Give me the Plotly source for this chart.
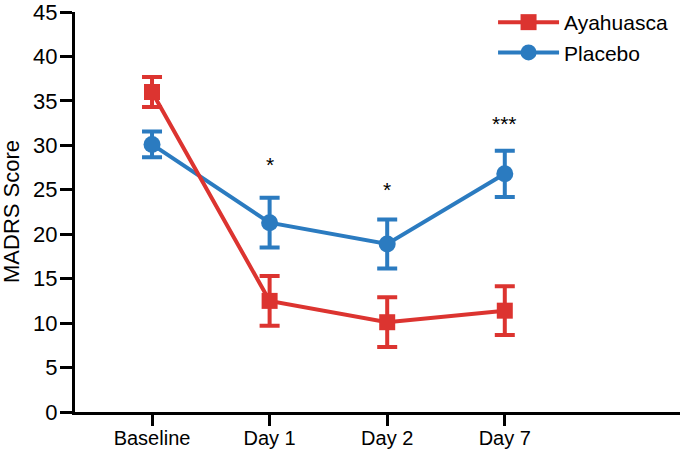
import plotly.graph_objects as go

categories = ["Baseline", "Day 1", "Day 2", "Day 7"]
aya_mean = [36.0, 12.5, 10.1, 11.4]
aya_err = [1.7, 2.8, 2.8, 2.75]
pla_mean = [30.1, 21.3, 18.9, 26.8]
pla_err = [1.45, 2.8, 2.75, 2.6]
sig_labels = ["*", "*", "***"]
sig_cats = ["Day 1", "Day 2", "Day 7"]
sig_y = [27.8, 25.0, 32.5]

RED = "#DC3430"
BLUE = "#2B7BC0"
xpos = list(range(len(categories)))
idx = {c: i for i, c in enumerate(categories)}

fig = go.Figure()
fig.add_trace(go.Scatter(
    x=xpos, y=pla_mean, name="Placebo", mode="lines+markers",
    line=dict(color=BLUE, width=4),
    marker=dict(symbol="circle", size=17, color=BLUE),
    error_y=dict(type="data", array=pla_err, visible=True, color=BLUE, thickness=4, width=10),
    legendrank=2,
))
fig.add_trace(go.Scatter(
    x=xpos, y=aya_mean, name="Ayahuasca", mode="lines+markers",
    line=dict(color=RED, width=4),
    marker=dict(symbol="square", size=16, color=RED),
    error_y=dict(type="data", array=aya_err, visible=True, color=RED, thickness=4, width=10),
    legendrank=1,
))

for lab, c, yv in zip(sig_labels, sig_cats, sig_y):
    fig.add_annotation(x=idx[c], y=yv, text=lab, showarrow=False,
                       font=dict(size=21, color="black"), yanchor="middle")

fig.add_annotation(xref="paper", yref="paper", x=0, y=0.5, xanchor="center",
                   yanchor="middle", xshift=-64, text="MADRS Score", textangle=-90,
                   showarrow=False, font=dict(size=22, color="black"))

fig.update_layout(
    width=680, height=451,
    margin=dict(l=75, r=0, t=10, b=39),
    plot_bgcolor="white", paper_bgcolor="white",
    font=dict(family="Liberation Sans, Arial", size=20, color="black"),
    showlegend=True,
    legend=dict(x=0.691, y=1.025, xanchor="left", yanchor="top",
                bgcolor="rgba(0,0,0,0)", font=dict(size=21),
                itemwidth=61, tracegroupgap=0),
)
fig.update_xaxes(
    range=[-0.655, 4.49], tickmode="array", tickvals=xpos, ticktext=categories,
    showline=True, linecolor="black", linewidth=3, ticks="outside",
    ticklen=11, tickwidth=3, tickcolor="black", showgrid=False, zeroline=False,
    tickfont=dict(size=20), ticklabelstandoff=-5,
)
fig.update_yaxes(
    range=[0, 45], dtick=5, ticklabeloverflow="allow",
    showline=True, linecolor="black", linewidth=3, ticks="outside",
    ticklen=12, tickwidth=3, tickcolor="black", showgrid=False, zeroline=False,
    tickfont=dict(size=22), ticklabelstandoff=-2,
)

fig.write_html("out.html", config={"displayModeBar": False},
               post_script="document.body.style.margin='0px';")
